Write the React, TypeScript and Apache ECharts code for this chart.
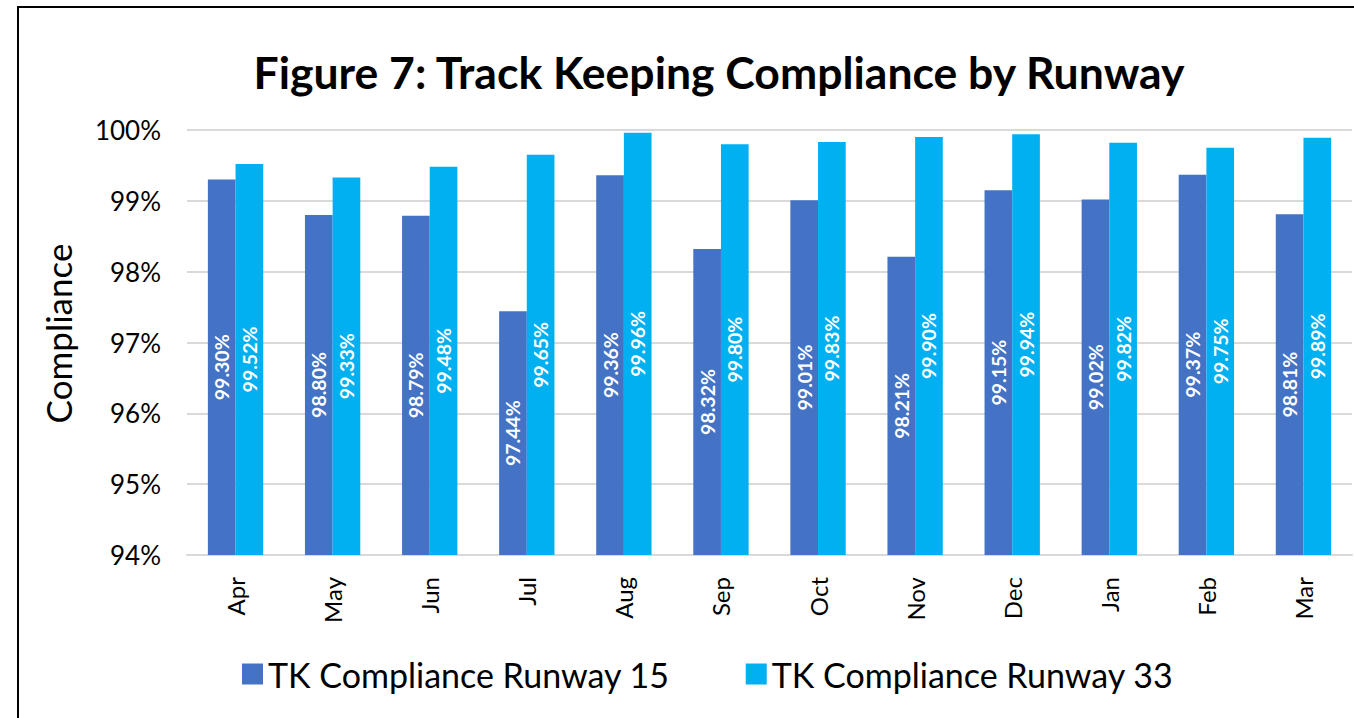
import React, { useEffect, useRef } from "react";
import * as echarts from "echarts";

const months = ["Apr", "May", "Jun", "Jul", "Aug", "Sep", "Oct", "Nov", "Dec", "Jan", "Feb", "Mar"];
const runway15 = [99.30, 98.80, 98.79, 97.44, 99.36, 98.32, 99.01, 98.21, 99.15, 99.02, 99.37, 98.81];
const runway33 = [99.52, 99.33, 99.48, 99.65, 99.96, 99.80, 99.83, 99.90, 99.94, 99.82, 99.75, 99.89];
const seriesNames = ["TK Compliance Runway 15", "TK Compliance Runway 33"];
const titleText = "Figure 7: Track Keeping Compliance by Runway";

const FONT = "Lato, 'Open Sans', sans-serif";

export default function App() {
  const ref = useRef<HTMLDivElement>(null);
  useEffect(() => {
    if (!ref.current) return;
    const chart = echarts.init(ref.current, null, { renderer: "svg" });
    const label = {
      show: true,
      position: "inside",
      rotate: 90,
      color: "#ffffff",
      fontFamily: FONT,
      fontWeight: "bold",
      fontSize: 19.5,
      formatter: (p: any) => p.value.toFixed(2) + "%",
    };
    chart.setOption({
      animation: false,
      textStyle: { fontFamily: FONT },
      title: {
        text: titleText,
        left: 714,
        top: 44,
        textAlign: "center",
        textStyle: { fontFamily: FONT, fontWeight: "bold", fontSize: 44.5, color: "#000" },
      },
      graphic: [
        {
          type: "rect",
          shape: { x: 18, y: 7, width: 1400, height: 800 },
          style: { fill: "none", stroke: "#000", lineWidth: 2 },
          silent: true,
        },
      ],
      legend: {
        bottom: 22,
        left: 237,
        itemWidth: 21,
        itemHeight: 21,
        itemGap: 76,
        icon: "rect",
        textStyle: { fontFamily: FONT, fontSize: 34, color: "#000", padding: [0, 0, 0, 0] },
        data: seriesNames,
      },
      grid: { left: 187, right: 2, top: 130, bottom: 163 },
      xAxis: {
        type: "category",
        data: months,
        axisLine: { lineStyle: { color: "#d9d9d9", width: 2 } },
        axisTick: { show: false },
        axisLabel: { rotate: 90, fontSize: 24, color: "#000", margin: 22, fontFamily: FONT },
      },
      yAxis: {
        type: "value",
        min: 94,
        max: 100,
        interval: 1,
        name: "Compliance",
        nameLocation: "middle",
        nameGap: 112,
        nameRotate: 90,
        nameTextStyle: { fontSize: 35, color: "#000", fontFamily: FONT, padding: [0, 0, 0, 18] },
        axisLabel: { formatter: "{value}%", fontSize: 26, color: "#000", margin: 26, fontFamily: FONT },
        splitLine: { lineStyle: { color: "#d9d9d9", width: 2 } },
        axisLine: { show: false },
        axisTick: { show: false },
      },
      series: [
        {
          name: seriesNames[0],
          type: "bar",
          data: runway15,
          itemStyle: { color: "#4472C4" },
          barGap: "0%",
          barCategoryGap: "43%",
          label,
        },
        {
          name: seriesNames[1],
          type: "bar",
          data: runway33,
          itemStyle: { color: "#00B0F0" },
          barGap: "0%",
          barCategoryGap: "43%",
          label,
        },
      ],
    });
    return () => chart.dispose();
  }, []);
  return (
    <div
      ref={ref}
      style={{ position: "fixed", left: 0, top: 0, width: 1354, height: 718, background: "#fff" }}
    />
  );
}
